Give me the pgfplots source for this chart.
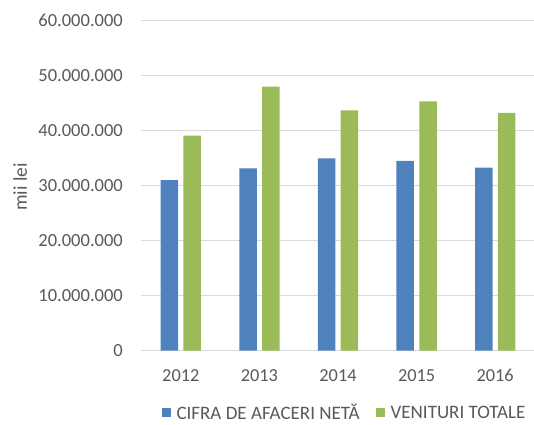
\documentclass[border=0pt]{standalone}
\usepackage{pgfplots}
\pgfplotsset{compat=1.18}
\usepackage{fontspec}
\setmainfont{Carlito}
\definecolor{cblue}{HTML}{4F81BD}
\definecolor{cgreen}{HTML}{9BBB59}
\definecolor{cgrid}{HTML}{D9D9D9}
\definecolor{ctext}{HTML}{595959}
\begin{document}
\begin{tikzpicture}
\path[use as bounding box] (-141.5pt,-73.3pt) rectangle (392.5pt,350.7pt);
\begin{axis}[
  at={(0,0)}, anchor=south west,
  scale only axis, width=393pt, height=330pt,
  ybar=5.3pt, bar width=17.5pt,
  xmin=-0.5, xmax=4.5, ymin=0, ymax=60000000,
  xtick={0,1,2,3,4}, xticklabels={2012,2013,2014,2015,2016},
  ytick={0,10000000,20000000,30000000,40000000,50000000,60000000},
  scaled y ticks=false,
  /pgf/number format/.cd, fixed, precision=0, 1000 sep={.}, assume math mode=true,
  /pgfplots/.cd,
  axis line style={draw=none},
  axis x line*=bottom,
  major tick length=0pt,
  ymajorgrids, grid style={cgrid, line width=1pt},
  xticklabel style={font=\fontsize{18.3}{21}\selectfont, text=ctext, anchor=center, inner sep=0pt, yshift=-24.6pt},
  yticklabel style={font=\fontsize{18.5}{21}\selectfont, text=ctext, anchor=east, inner sep=0pt, xshift=-18.5pt},
  ylabel={mii lei},
  ylabel style={at={(axis description cs:-0.309,0.496)}, anchor=center, font=\fontsize{19.5}{22}\selectfont, text=ctext},
  legend columns=2,
  legend style={at={(axis description cs:0.5165,-0.188)}, anchor=center, draw=none, font=\fontsize{19}{22}\selectfont, text=ctext, inner sep=0pt,
    /tikz/every even column/.append style={column sep=14pt}},
  legend image code/.code={\fill[#1] (0pt,-4.75pt) rectangle (9.5pt,4.75pt); \path (0pt,0pt) -- (13pt,0pt);},
  every axis plot/.append style={draw=none},
]
\addplot[fill=cblue] coordinates {(0,31000000) (1,33150000) (2,34950000) (3,34500000) (4,33300000)};
\addplot[fill=cgreen] coordinates {(0,39100000) (1,48000000) (2,43700000) (3,45350000) (4,43250000)};
\legend{CIFRA DE AFACERI NETĂ, VENITURI TOTALE}
\end{axis}
\end{tikzpicture}
\end{document}
